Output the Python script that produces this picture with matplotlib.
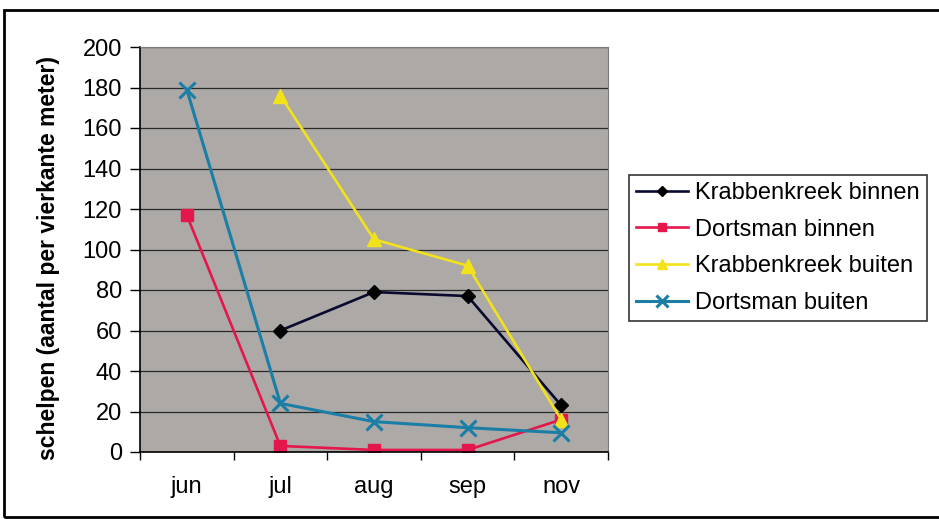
import numpy as np
import matplotlib.pyplot as plt
from matplotlib.patches import Rectangle

plt.rcParams['font.family'] = ['Liberation Sans', 'DejaVu Sans']

#values
months = ['jun', 'jul', 'aug', 'sep', 'nov']
krabbenkreek_binnen = [np.nan, 60, 79, 77, 23]
dortsman_binnen = [117, 3, 1, 1, 16]
krabbenkreek_buiten = [np.nan, 176, 105, 92, 16]
dortsman_buiten = [179, 24, 15, 12, 9.5]
yticks = list(range(0, 201, 20))

W, H = 939, 519
fig = plt.figure(figsize=(W/100, H/100), dpi=100)

#plot area in pixels: left 140, right 608, top 47, bottom 452
ax = fig.add_axes([140/W, 1-452/H, (608-140)/W, (452-47)/H])
ax.set_facecolor('#aca9a6')

x = np.arange(len(months))
ax.plot(x, krabbenkreek_binnen, color='#0a0a30', lw=1.9, marker='D', ms=7,
        mfc='black', mec='black', label='Krabbenkreek binnen')
ax.plot(x, dortsman_binnen, color='#e4174c', lw=1.9, marker='s', ms=8,
        mfc='#e4174c', mec='#e4174c', label='Dortsman binnen')
ax.plot(x, krabbenkreek_buiten, color='#f2e21c', lw=1.9, marker='^', ms=10,
        mfc='#f2e21c', mec='#f2e21c', label='Krabbenkreek buiten')
ax.plot(x, dortsman_buiten, color='#1a7ea6', lw=2.2, marker='x', ms=11,
        mew=2.2, label='Dortsman buiten')

ax.set_xlim(-0.5, len(months)-0.5)
ax.set_ylim(0, 200)
ax.set_yticks(yticks)
ax.set_yticklabels([str(v) for v in yticks], fontsize=17)
ax.set_xticks(x)
ax.set_xticklabels(months, fontsize=17)
ax.set_xticks(np.arange(-0.5, len(months)), minor=True)
ax.tick_params(axis='x', which='major', length=0, pad=17)
ax.tick_params(axis='x', which='minor', length=6, width=1)
ax.tick_params(axis='y', length=7, width=1, pad=6)
ax.grid(axis='y', color='#2a2a2a', lw=0.9)
ax.set_axisbelow(True)

for s in ['top', 'right']:
    ax.spines[s].set_color('#7a7a7a')
for s in ['left', 'bottom']:
    ax.spines[s].set_color('black')
    ax.spines[s].set_linewidth(1.2)

ax.set_ylabel('schelpen (aantal per vierkante meter)', fontsize=16.5,
              fontweight='bold')
#right edge of the rotated label sits at about x=60 px
ax.yaxis.set_label_coords((60-140)/468, 0.48)

leg = fig.legend(loc='upper left', bbox_to_anchor=(629/W, 1-175/H),
                 fontsize=17, frameon=True, fancybox=False, handlelength=2.2,
                 handletextpad=0.3, labelspacing=0.62, borderpad=0.3,
                 borderaxespad=0, markerscale=0.75)
leg.get_frame().set_edgecolor('black')
leg.get_frame().set_linewidth(1.2)

#outer border of the chart, running off the right edge
fig.patches.append(Rectangle((4/W, 2/H), 1.2, 1-12/H, transform=fig.transFigure,
                             fill=False, edgecolor='black', lw=2))

fig.savefig('out.png', dpi=100)
